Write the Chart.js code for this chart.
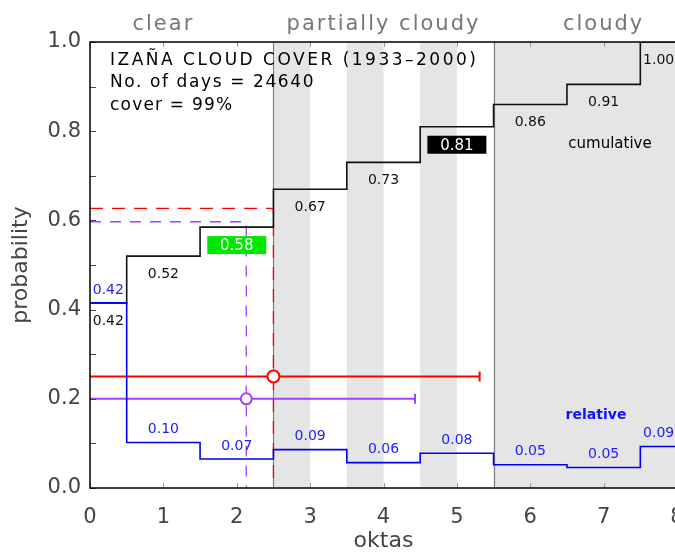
<!DOCTYPE html>
<html>
<head>
<meta charset="utf-8">
<script src="https://cdn.jsdelivr.net/npm/chart.js@4"></script>
<style>
html, body { margin: 0; padding: 0; background: #fff; overflow: hidden; }
#wrap { width: 675px; height: 554px; overflow: hidden; }
</style>
</head>
<body>
<div id="wrap"><canvas id="cloudChart" width="690" height="554"></canvas></div>
<script>
// cloud cover in oktas, relative and cumulative probability
var oktas = [0, 1, 2, 3, 4, 5, 6, 7, 8];
var relative = [0.415, 0.102, 0.065, 0.086, 0.057, 0.078, 0.052, 0.046, 0.093];
var cumulative = [0.415, 0.52, 0.585, 0.67, 0.73, 0.81, 0.86, 0.905, 1.00];
var relLabels = ["0.42", "0.10", "0.07", "0.09", "0.06", "0.08", "0.05", "0.05", "0.09"];
var cumLabels = ["0.42", "0.52", "0.58", "0.67", "0.73", "0.81", "0.86", "0.91", "1.00"];

// sky categories and their okta limits
var categories = ["clear", "partially cloudy", "cloudy"];
var categoryBounds = [0, 2.5, 5.5, 8];
var categoryCentres = [1, 4, 7];

// median (red) and mean (purple): okta, cumulative level, bar height, bar end
var statOkta = [2.5, 2.13];
var statLevel = [0.627, 0.597];
var statBarY = [0.25, 0.20];
var statBarEnd = [5.31, 4.43];

var infoLines = ["IZA\u00d1A CLOUD COVER (1933\u20132000)", "No. of days = 24640", "cover = 99%"];

var FONT = "'DejaVu Sans', sans-serif";
var RED = "#ff0000", PURPLE = "#a040ff", BLUE = "#0000ee";

function stepPoints(vals) {
    var pts = vals.map(function (v, i) {
        return { x: i === 0 ? 0 : oktas[i] - 0.5, y: v };
    });
    pts.push({ x: oktas[oktas.length - 1], y: vals[vals.length - 1] });
    return pts;
}

function binCentre(i) {
    var lo = Math.max(oktas[i] - 0.5, oktas[0]);
    var hi = Math.min(oktas[i] + 0.5, oktas[oktas.length - 1]);
    return (lo + hi) / 2;
}

// grey shading behind the curves
var bandsPlugin = {
    id: "bands",
    beforeDatasetsDraw: function (chart) {
        var ctx = chart.ctx, a = chart.chartArea, xs = chart.scales.x;
        ctx.save();
        ctx.fillStyle = "#e5e5e5";
        // partially cloudy: every second half okta
        for (var k = categoryBounds[1]; k < categoryBounds[2]; k += 1) {
            var x0 = xs.getPixelForValue(k), x1 = xs.getPixelForValue(k + 0.5);
            ctx.fillRect(x0, a.top, x1 - x0, a.bottom - a.top);
        }
        var c0 = xs.getPixelForValue(categoryBounds[2]), c1 = xs.getPixelForValue(categoryBounds[3]);
        ctx.fillRect(c0, a.top, c1 - c0, a.bottom - a.top);
        ctx.strokeStyle = "#808080";
        ctx.lineWidth = 1.2;
        [categoryBounds[1], categoryBounds[2]].forEach(function (b) {
            var px = Math.round(xs.getPixelForValue(b)) + 0.5;
            ctx.beginPath(); ctx.moveTo(px, a.top); ctx.lineTo(px, a.bottom); ctx.stroke();
        });
        ctx.restore();
    }
};

// frame, inward ticks and all the text
var decorPlugin = {
    id: "decor",
    afterDatasetsDraw: function (chart) {
        var ctx = chart.ctx, a = chart.chartArea, xs = chart.scales.x, ys = chart.scales.y;
        ctx.save();

        // ticks
        ctx.lineWidth = 1;
        ctx.strokeStyle = "#444";
        for (var t = 0; t <= 10; t++) {
            var py = Math.round(ys.getPixelForValue(t / 10)) + 0.5;
            ctx.beginPath(); ctx.moveTo(a.left, py); ctx.lineTo(a.left + 6, py); ctx.stroke();
        }
        ctx.strokeStyle = "#999";
        oktas.forEach(function (k) {
            var px = Math.round(xs.getPixelForValue(k)) + 0.5;
            ctx.beginPath(); ctx.moveTo(px, a.bottom); ctx.lineTo(px, a.bottom - 5); ctx.stroke();
            ctx.beginPath(); ctx.moveTo(px, a.top); ctx.lineTo(px, a.top + 5); ctx.stroke();
        });

        // frame
        ctx.strokeStyle = "#000";
        ctx.lineWidth = 1.5;
        ctx.strokeRect(a.left, a.top, a.right - a.left, a.bottom - a.top);

        // category names above the plot
        ctx.fillStyle = "#777";
        ctx.font = "21px " + FONT;
        ctx.letterSpacing = "2px";
        ctx.textAlign = "center";
        ctx.textBaseline = "alphabetic";
        categories.forEach(function (c, i) {
            ctx.fillText(c, xs.getPixelForValue(categoryCentres[i]), 30);
        });

        // info block
        ctx.fillStyle = "#000";
        ctx.font = "17px " + FONT;
        ctx.textAlign = "left";
        var baselines = [65, 87, 110];
        var spacing = ["2.5px", "1.6px", "1.2px"];
        infoLines.forEach(function (s, i) {
            ctx.letterSpacing = spacing[i];
            ctx.fillText(s, a.left + 20, baselines[i]);
        });
        ctx.letterSpacing = "0px";

        // cumulative labels below each step
        ctx.font = "14px " + FONT;
        ctx.textAlign = "center";
        ctx.textBaseline = "middle";
        cumulative.forEach(function (v, i) {
            var px = xs.getPixelForValue(binCentre(i)), py = ys.getPixelForValue(v) + 18;
            if (i === 2 || i === 5) {
                ctx.fillStyle = i === 2 ? "#00e800" : "#000";
                ctx.fillRect(px - 29.5, py - 9, 59, 18);
                ctx.fillStyle = "#fff";
                ctx.font = "15px " + FONT;
                ctx.fillText(cumLabels[i], px, py + 1);
                ctx.font = "14px " + FONT;
            } else {
                ctx.fillStyle = "#111";
                ctx.fillText(cumLabels[i], px, py);
            }
        });

        // relative labels above each step
        ctx.fillStyle = "#2020ff";
        relative.forEach(function (v, i) {
            ctx.fillText(relLabels[i], xs.getPixelForValue(binCentre(i)), ys.getPixelForValue(v) - 13);
        });

        // curve names
        ctx.fillStyle = "#000";
        ctx.font = "15px " + FONT;
        ctx.fillText("cumulative", 610, 144);
        ctx.fillStyle = "#1010ff";
        ctx.font = "bold 14px " + FONT;
        ctx.fillText("relative", 596, 415);

        ctx.restore();
    }
};

var datasets = [
    {
        label: "relative",
        data: stepPoints(relative),
        stepped: true,
        borderColor: BLUE,
        borderWidth: 1.6,
        pointRadius: 0
    },
    {
        label: "cumulative",
        data: stepPoints(cumulative),
        stepped: true,
        borderColor: "#111",
        borderWidth: 1.6,
        pointRadius: 0
    }
];

var statColors = [RED, PURPLE];
statOkta.forEach(function (m, i) {
    var col = statColors[i];
    // marker on the bar
    datasets.push({
        data: [{ x: m, y: statBarY[i] }],
        showLine: false,
        pointStyle: "circle",
        pointRadius: i === 0 ? 6 : 5.5,
        pointBackgroundColor: "#fff",
        pointBorderColor: col,
        pointBorderWidth: 2
    });
    // bar with end cap
    datasets.push({
        data: [{ x: 0, y: statBarY[i] }, { x: statBarEnd[i], y: statBarY[i] }],
        borderColor: col,
        borderWidth: 2,
        pointRadius: [0, 5],
        pointStyle: "line",
        rotation: 90,
        pointBorderColor: col,
        pointBorderWidth: 2
    });
    // dashed guide from the axis to the marker position
    datasets.push({
        data: [{ x: 0, y: statLevel[i] }, { x: m, y: statLevel[i] }, { x: m, y: 0 }],
        borderColor: col,
        borderWidth: 1.3,
        borderDash: i === 0 ? [13, 9] : [11, 9],
        pointRadius: 0
    });
});

new Chart(document.getElementById("cloudChart"), {
    type: "line",
    data: { datasets: datasets },
    options: {
        responsive: false,
        animation: false,
        layout: { padding: { left: 0, right: 13, top: 42, bottom: 0 } },
        plugins: { legend: { display: false }, tooltip: { enabled: false } },
        scales: {
            x: {
                type: "linear",
                min: 0,
                max: 8,
                afterFit: function (s) { s.height = 66; s.paddingLeft = 0; s.paddingRight = 0; },
                grid: { display: false, drawTicks: false },
                border: { display: false },
                ticks: { stepSize: 1, padding: 17, color: "#444", font: { family: FONT, size: 21 } },
                title: { display: true, text: "oktas", color: "#444", padding: 0, font: { family: FONT, size: 22 } }
            },
            y: {
                min: 0,
                max: 1,
                afterFit: function (s) { s.width = 90; s.paddingTop = 0; s.paddingBottom = 0; },
                grid: { display: false, drawTicks: false },
                border: { display: false },
                ticks: {
                    stepSize: 0.2,
                    padding: 9,
                    color: "#444",
                    font: { family: FONT, size: 21 },
                    callback: function (v) { return v.toFixed(1); }
                },
                title: { display: true, text: "probability", color: "#444", padding: { top: 8, bottom: 0 }, font: { family: FONT, size: 22 } }
            }
        }
    },
    plugins: [bandsPlugin, decorPlugin]
});
</script>
</body>
</html>
